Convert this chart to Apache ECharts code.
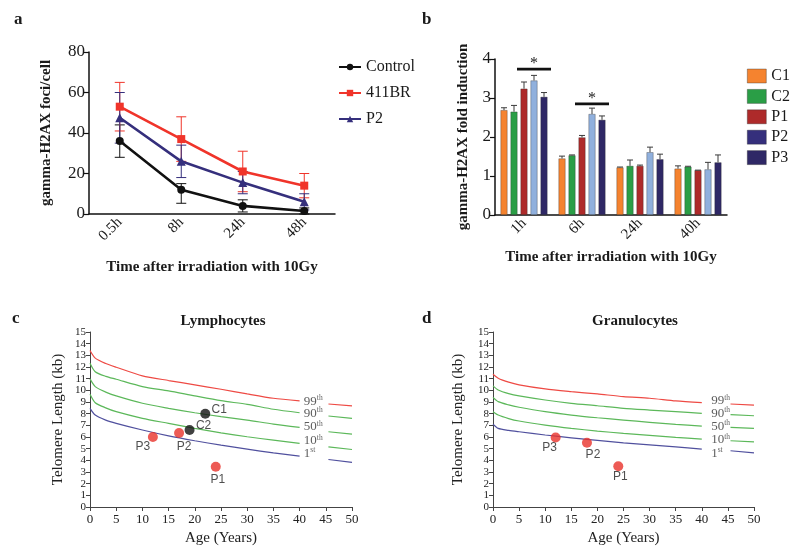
<!DOCTYPE html>
<html><head><meta charset="utf-8">
<script src="https://cdn.jsdelivr.net/npm/echarts@6/dist/echarts.min.js"></script>
<style>html,body{margin:0;padding:0;background:#fff}#c{width:800px;height:555px}</style>
</head><body><div id="c"></div>
<script>
// ---------- Panel a data ----------
const aCategories = ['0.5h', '8h', '24h', '48h'];
const aYTicks = [0, 20, 40, 60, 80];
const aControl = [36, 12, 4, 1.5];
const aControlLow = [28, 5.3, 1, 0];
const aControlHigh = [44, 15, 7, 3];
const a411BR = [53, 37, 21, 14];
const a411BRLow = [41, 26, 11, 8];
const a411BRHigh = [65, 48, 31, 20];
const aP2 = [47.5, 26, 15.5, 6];
const aP2Low = [35, 18, 10, 2];
const aP2High = [60, 34, 21, 10];

// ---------- Panel b data ----------
const bCategories = ['1h', '6h', '24h', '40h'];
const bYTicks = [0, 1, 2, 3, 4];
const bC1 = [2.69, 1.45, 1.22, 1.19];
const bC1Err = [0.06, 0.06, 0.01, 0.07];
const bC2 = [2.65, 1.53, 1.26, 1.24];
const bC2Err = [0.16, 0.01, 0.15, 0.01];
const bP1 = [3.24, 1.99, 1.26, 1.15];
const bP1Err = [0.17, 0.05, 0.02, 0.0];
const bP2 = [3.45, 2.59, 1.61, 1.17];
const bP2Err = [0.13, 0.15, 0.13, 0.18];
const bP3 = [3.03, 2.44, 1.43, 1.35];
const bP3Err = [0.11, 0.10, 0.13, 0.19];
const bSigCategory = [0, 1];
const bSigLevel = [3.74, 2.85];

// ---------- Panel c data (Lymphocytes) ----------
const pctNames = ['99', '90', '50', '10', '1'];
const pctSuffix = ['th', 'th', 'th', 'th', 'st'];
const curveAges = [0, 1, 3, 5, 10, 15, 20, 25, 30, 35, 40];
const tailAges = [45.5, 50];
const cP99 = [13.41, 12.76, 12.3, 11.98, 11.24, 10.84, 10.47, 10.09, 9.69, 9.32, 9.09];
const cP90 = [12.33, 11.6, 11.2, 10.95, 10.32, 9.95, 9.52, 9.11, 8.8, 8.38, 8.08];
const cP50 = [10.98, 10.32, 9.85, 9.52, 8.89, 8.46, 8.08, 7.74, 7.45, 7.11, 6.83];
const cP10 = [9.66, 8.94, 8.5, 8.17, 7.6, 7.17, 6.74, 6.36, 6.02, 5.73, 5.45];
const cP1 = [8.46, 7.88, 7.45, 7.17, 6.6, 6.1, 5.68, 5.3, 4.96, 4.64, 4.36];
const cTailP99 = [8.83, 8.66];
const cTailP90 = [7.8, 7.6];
const cTailP50 = [6.45, 6.25];
const cTailP10 = [5.16, 4.93];
const cTailP1 = [4.07, 3.82];
const cPctLabelY = [9.07, 8.03, 6.88, 5.68, 4.59];
const cPointNames = ['C1', 'C2', 'P1', 'P2', 'P3'];
const cPointAge = [22, 19, 24, 17, 12];
const cPointTL = [8.0, 6.6, 3.45, 6.35, 6.0];

// ---------- Panel d data (Granulocytes) ----------
const dP99 = [11.38, 11.04, 10.7, 10.47, 10.12, 9.89, 9.69, 9.46, 9.32, 9.09, 8.94];
const dP90 = [10.38, 10.03, 9.72, 9.52, 9.17, 8.89, 8.68, 8.46, 8.31, 8.17, 8.03];
const dP50 = [9.4, 9.03, 8.75, 8.55, 8.17, 7.88, 7.65, 7.45, 7.26, 7.08, 6.94];
const dP10 = [8.17, 7.88, 7.58, 7.37, 7.02, 6.74, 6.51, 6.31, 6.14, 5.97, 5.82];
const dP1 = [7.11, 6.74, 6.57, 6.45, 6.17, 5.93, 5.71, 5.5, 5.33, 5.16, 4.96];
const dTailP99 = [8.83, 8.74];
const dTailP90 = [7.91, 7.82];
const dTailP50 = [6.83, 6.74];
const dTailP10 = [5.68, 5.59];
const dTailP1 = [4.82, 4.64];
const dPctLabelY = [9.1, 8.04, 6.9, 5.74, 4.6];
const dPointNames = ['P1', 'P2', 'P3'];
const dPointAge = [24, 18, 12];
const dPointTL = [3.5, 5.5, 5.95];
const tlXTicks = [0, 50, 5];
const tlYTicks = [0, 15, 1];

// ---------- styles / layout ----------
const SERIF = '"Liberation Serif", "DejaVu Serif", serif';
const SANS = '"Liberation Sans", Arial, sans-serif';
const TXT = '#1a1a1a';
const aColors = {Control: '#111111', '411BR': '#F0342A', P2: '#352F7C'};
const bColors = ['#F5832F', '#2A9E46', '#AE2A2A', '#90B0DD', '#2F2866'];
const pctColors = ['#EE4A44', '#5CB85A', '#5CB85A', '#5CB85A', '#50509E'];
const BAR_W = 7, BAR_PITCH = 10;
const cLabelOffset = {C1: [14, -4], C2: [14, -4], P1: [2, 13], P2: [5, 14], P3: [-10, 10]};
const dLabelOffset = {P1: [2, 11], P2: [6, 12], P3: [-6, 10]};
const cPctLabelX = 40.8, dPctLabelX = 41.8;

function errBars(xi, yi, cats, low, high, color, capHalf, offset, bothCaps) {
  return {
    type: 'custom', xAxisIndex: xi, yAxisIndex: yi, z: 3, silent: true,
    data: cats.map((c, i) => [i, low[i], high[i]]),
    renderItem(params, api) {
      const lo = api.coord([api.value(0), api.value(1)]);
      const hi = api.coord([api.value(0), api.value(2)]);
      const x = lo[0] + (offset || 0);
      const st = {stroke: color, lineWidth: 1};
      const ch = [
        {type: 'line', shape: {x1: x, y1: lo[1], x2: x, y2: hi[1]}, style: st},
        {type: 'line', shape: {x1: x - capHalf, y1: hi[1], x2: x + capHalf, y2: hi[1]}, style: st}
      ];
      if (bothCaps) {
        ch.push({type: 'line', shape: {x1: x - capHalf, y1: lo[1], x2: x + capHalf, y2: lo[1]}, style: st});
      }
      return {type: 'group', children: ch};
    }
  };
}

const series = [];
// panel a
[['Control', aControl, aControlLow, aControlHigh, 'circle', 8],
 ['411BR', a411BR, a411BRLow, a411BRHigh, 'rect', 8],
 ['P2', aP2, aP2Low, aP2High, 'triangle', 9]].forEach(([name, v, lo, hi, sym, ss]) => {
  series.push(errBars(0, 0, aCategories, lo, hi, aColors[name], 5, 0, true));
  series.push({
    name, type: 'line', xAxisIndex: 0, yAxisIndex: 0, data: v, symbol: sym, symbolSize: ss,
    showAllSymbol: true, z: 4,
    lineStyle: {color: aColors[name], width: 2.6}, itemStyle: {color: aColors[name]}
  });
});
// panel b
const bNames = ['C1', 'C2', 'P1', 'P2', 'P3'];
[bC1, bC2, bP1, bP2, bP3].forEach((v, k) => {
  series.push({
    name: bNames[k], type: 'bar', xAxisIndex: 1, yAxisIndex: 1, data: v,
    barWidth: BAR_W, barGap: ((BAR_PITCH - BAR_W) / BAR_W * 100) + '%',
    itemStyle: {color: bColors[k], borderColor: 'rgba(40,40,40,0.55)', borderWidth: 0.6}
  });
});
[bC1Err, bC2Err, bP1Err, bP2Err, bP3Err].forEach((e, k) => {
  const vals = [bC1, bC2, bP1, bP2, bP3][k];
  series.push(errBars(1, 1, bCategories, vals, vals.map((x, i) => x + e[i]), '#3a3a3a', 3, (k - 2) * BAR_PITCH, false));
});
series.push({
  type: 'custom', xAxisIndex: 1, yAxisIndex: 1, z: 5, silent: true,
  data: bSigCategory.map((c, i) => [c, bSigLevel[i]]),
  renderItem(params, api) {
    const p = api.coord([api.value(0), api.value(1)]);
    const x1 = p[0] - 7, x2 = p[0] + 2 * BAR_PITCH + 7;
    return {type: 'group', children: [
      {type: 'line', shape: {x1, y1: p[1], x2, y2: p[1]}, style: {stroke: '#111', lineWidth: 2.6}},
      {type: 'text', style: {text: '*', x: (x1 + x2) / 2, y: p[1] + 3, textAlign: 'center', textVerticalAlign: 'bottom',
        font: '16px ' + SERIF, fill: '#222'}}
    ]};
  }
});
// panels c & d
function pctPanel(xi, curves, tails, labelY, labelX, names, ages, tls, offsets) {
  curves.forEach((vals, k) => {
    series.push({type: 'line', xAxisIndex: xi, yAxisIndex: xi, symbol: 'none', smooth: 0.25, silent: true,
      data: curveAges.map((a, i) => [a, vals[i]]), lineStyle: {color: pctColors[k], width: 1.2}});
    series.push({type: 'line', xAxisIndex: xi, yAxisIndex: xi, symbol: 'none', silent: true,
      data: tailAges.map((a, i) => [a, tails[k][i]]), lineStyle: {color: pctColors[k], width: 1.2}});
  });
  series.push({type: 'scatter', xAxisIndex: xi, yAxisIndex: xi, symbolSize: 0, silent: true,
    data: labelY.map((y, k) => ({value: [labelX, y], name: k})),
    label: {show: true, position: 'right', distance: 0,
      formatter: p => '{n|' + pctNames[p.dataIndex] + '}{s|' + pctSuffix[p.dataIndex] + '}',
      rich: {n: {fontSize: 13, fontFamily: SERIF, color: '#333', lineHeight: 14},
             s: {fontSize: 7.5, fontFamily: SERIF, color: '#333', verticalAlign: 'top', lineHeight: 14}}}
  });
  series.push({type: 'scatter', xAxisIndex: xi, yAxisIndex: xi, symbolSize: 10, z: 6, silent: true,
    data: names.map((n, i) => ({
      value: [ages[i], tls[i]], name: n,
      itemStyle: {color: n[0] === 'C' ? '#111' : '#E8322B'},
      label: {show: true, position: 'inside', offset: offsets[n], formatter: n,
        fontFamily: SANS, fontSize: 12, color: '#222'}
    }))
  });
}
pctPanel(2, [cP99, cP90, cP50, cP10, cP1], [cTailP99, cTailP90, cTailP50, cTailP10, cTailP1],
  cPctLabelY, cPctLabelX, cPointNames, cPointAge, cPointTL, cLabelOffset);
pctPanel(3, [dP99, dP90, dP50, dP10, dP1], [dTailP99, dTailP90, dTailP50, dTailP10, dTailP1],
  dPctLabelY, dPctLabelX, dPointNames, dPointAge, dPointTL, dLabelOffset);

const axisA = {lineStyle: {color: '#111', width: 1.5}};
const boldName = {fontFamily: SERIF, fontWeight: 'bold', fontSize: 15, color: TXT};
const tlName = {fontFamily: SERIF, fontSize: 15, color: '#222'};

function tlXAxis(gi) {
  return {type: 'value', gridIndex: gi, min: tlXTicks[0], max: tlXTicks[1], interval: tlXTicks[2],
    name: 'Age (Years)', nameLocation: 'middle', nameGap: 24, nameTextStyle: tlName,
    axisLine: {lineStyle: {color: '#444', width: 1}}, axisTick: {show: true, length: 4, lineStyle: {color: '#444'}},
    splitLine: {show: false}, axisLabel: {fontFamily: SERIF, fontSize: 13, color: '#222', margin: 6}};
}
function tlYAxis(gi, gap) {
  return {type: 'value', gridIndex: gi, min: tlYTicks[0], max: tlYTicks[1], interval: tlYTicks[2],
    name: 'Telomere Length (kb)', nameLocation: 'middle', nameGap: gap, nameTextStyle: tlName,
    axisLine: {show: true, lineStyle: {color: '#444', width: 1}}, axisTick: {show: true, length: 4, lineStyle: {color: '#444'}},
    splitLine: {show: false}, axisLabel: {fontFamily: SERIF, fontSize: 11, color: '#222', margin: 4}};
}

const option = {
  backgroundColor: '#fff',
  animation: false,
  title: [
    {text: 'a', left: 9, top: 6, textStyle: {fontFamily: SERIF, fontWeight: 'bold', fontSize: 17, color: TXT}},
    {text: 'b', left: 417, top: 6, textStyle: {fontFamily: SERIF, fontWeight: 'bold', fontSize: 17, color: TXT}},
    {text: 'c', left: 7, top: 305, textStyle: {fontFamily: SERIF, fontWeight: 'bold', fontSize: 17, color: TXT}},
    {text: 'd', left: 417, top: 305, textStyle: {fontFamily: SERIF, fontWeight: 'bold', fontSize: 17, color: TXT}},
    {text: 'Lymphocytes', left: 218, top: 309, textAlign: 'center', textStyle: {fontFamily: SERIF, fontWeight: 'bold', fontSize: 15, color: TXT}},
    {text: 'Granulocytes', left: 630, top: 309, textAlign: 'center', textStyle: {fontFamily: SERIF, fontWeight: 'bold', fontSize: 15, color: TXT}}
  ],
  legend: [
    {data: ['Control', '411BR', 'P2'], orient: 'vertical', left: 333, top: 54, itemWidth: 22, itemHeight: 8, itemGap: 10,
     textStyle: {fontFamily: SERIF, fontSize: 16, color: TXT}, selectedMode: false},
    {data: bNames, orient: 'vertical', left: 742, top: 63, icon: 'rect', itemWidth: 19, itemHeight: 14, itemGap: 4.4,
     textStyle: {fontFamily: SERIF, fontSize: 16, color: TXT}, selectedMode: false,
     itemStyle: {borderColor: 'rgba(40,40,40,0.6)', borderWidth: 0.6}}
  ],
  grid: [
    {left: 89, top: 52, width: 246, height: 162},
    {left: 495, top: 59, width: 232, height: 156},
    {left: 90, top: 332, width: 262, height: 175},
    {left: 493, top: 332, width: 261, height: 175}
  ],
  xAxis: [
    {type: 'category', gridIndex: 0, data: aCategories, boundaryGap: true,
     name: 'Time after irradiation with 10Gy', nameLocation: 'middle', nameGap: 46, nameTextStyle: boldName,
     axisLine: axisA, axisTick: {alignWithLabel: true, length: 5, lineStyle: {color: '#111', width: 1.2}},
     axisLabel: {rotate: 45, fontFamily: SERIF, fontSize: 15, color: TXT, margin: 6}},
    {type: 'category', gridIndex: 1, data: bCategories, boundaryGap: true,
     name: 'Time after irradiation with 10Gy', nameLocation: 'middle', nameGap: 35, nameTextStyle: boldName,
     axisLine: axisA, axisTick: {alignWithLabel: true, length: 5, lineStyle: {color: '#111', width: 1.2}},
     axisLabel: {rotate: 45, fontFamily: SERIF, fontSize: 15, color: TXT, margin: 6}},
    tlXAxis(2), tlXAxis(3)
  ],
  yAxis: [
    {type: 'value', gridIndex: 0, min: aYTicks[0], max: aYTicks[aYTicks.length - 1], interval: aYTicks[1] - aYTicks[0],
     name: 'gamma-H2AX foci/cell', nameLocation: 'middle', nameGap: 35, nameTextStyle: boldName,
     axisLine: {show: true, lineStyle: {color: '#111', width: 1.5}}, axisTick: {show: true, length: 5, lineStyle: {color: '#111', width: 1.2}},
     splitLine: {show: false}, axisLabel: {fontFamily: SERIF, fontSize: 17, color: TXT, margin: 4}},
    {type: 'value', gridIndex: 1, min: bYTicks[0], max: bYTicks[bYTicks.length - 1], interval: bYTicks[1] - bYTicks[0],
     name: 'gamma-H2AX fold induction', nameLocation: 'middle', nameGap: 24, nameTextStyle: boldName,
     axisLine: {show: true, lineStyle: {color: '#111', width: 1.5}}, axisTick: {show: true, length: 5, lineStyle: {color: '#111', width: 1.2}},
     splitLine: {show: false}, axisLabel: {fontFamily: SERIF, fontSize: 17, color: TXT, margin: 4}},
    tlYAxis(2, 24), tlYAxis(3, 27)
  ],
  series
};
const chart = echarts.init(document.getElementById('c'), null, {renderer: 'canvas'});
chart.setOption(option);
</script>
</body></html>
